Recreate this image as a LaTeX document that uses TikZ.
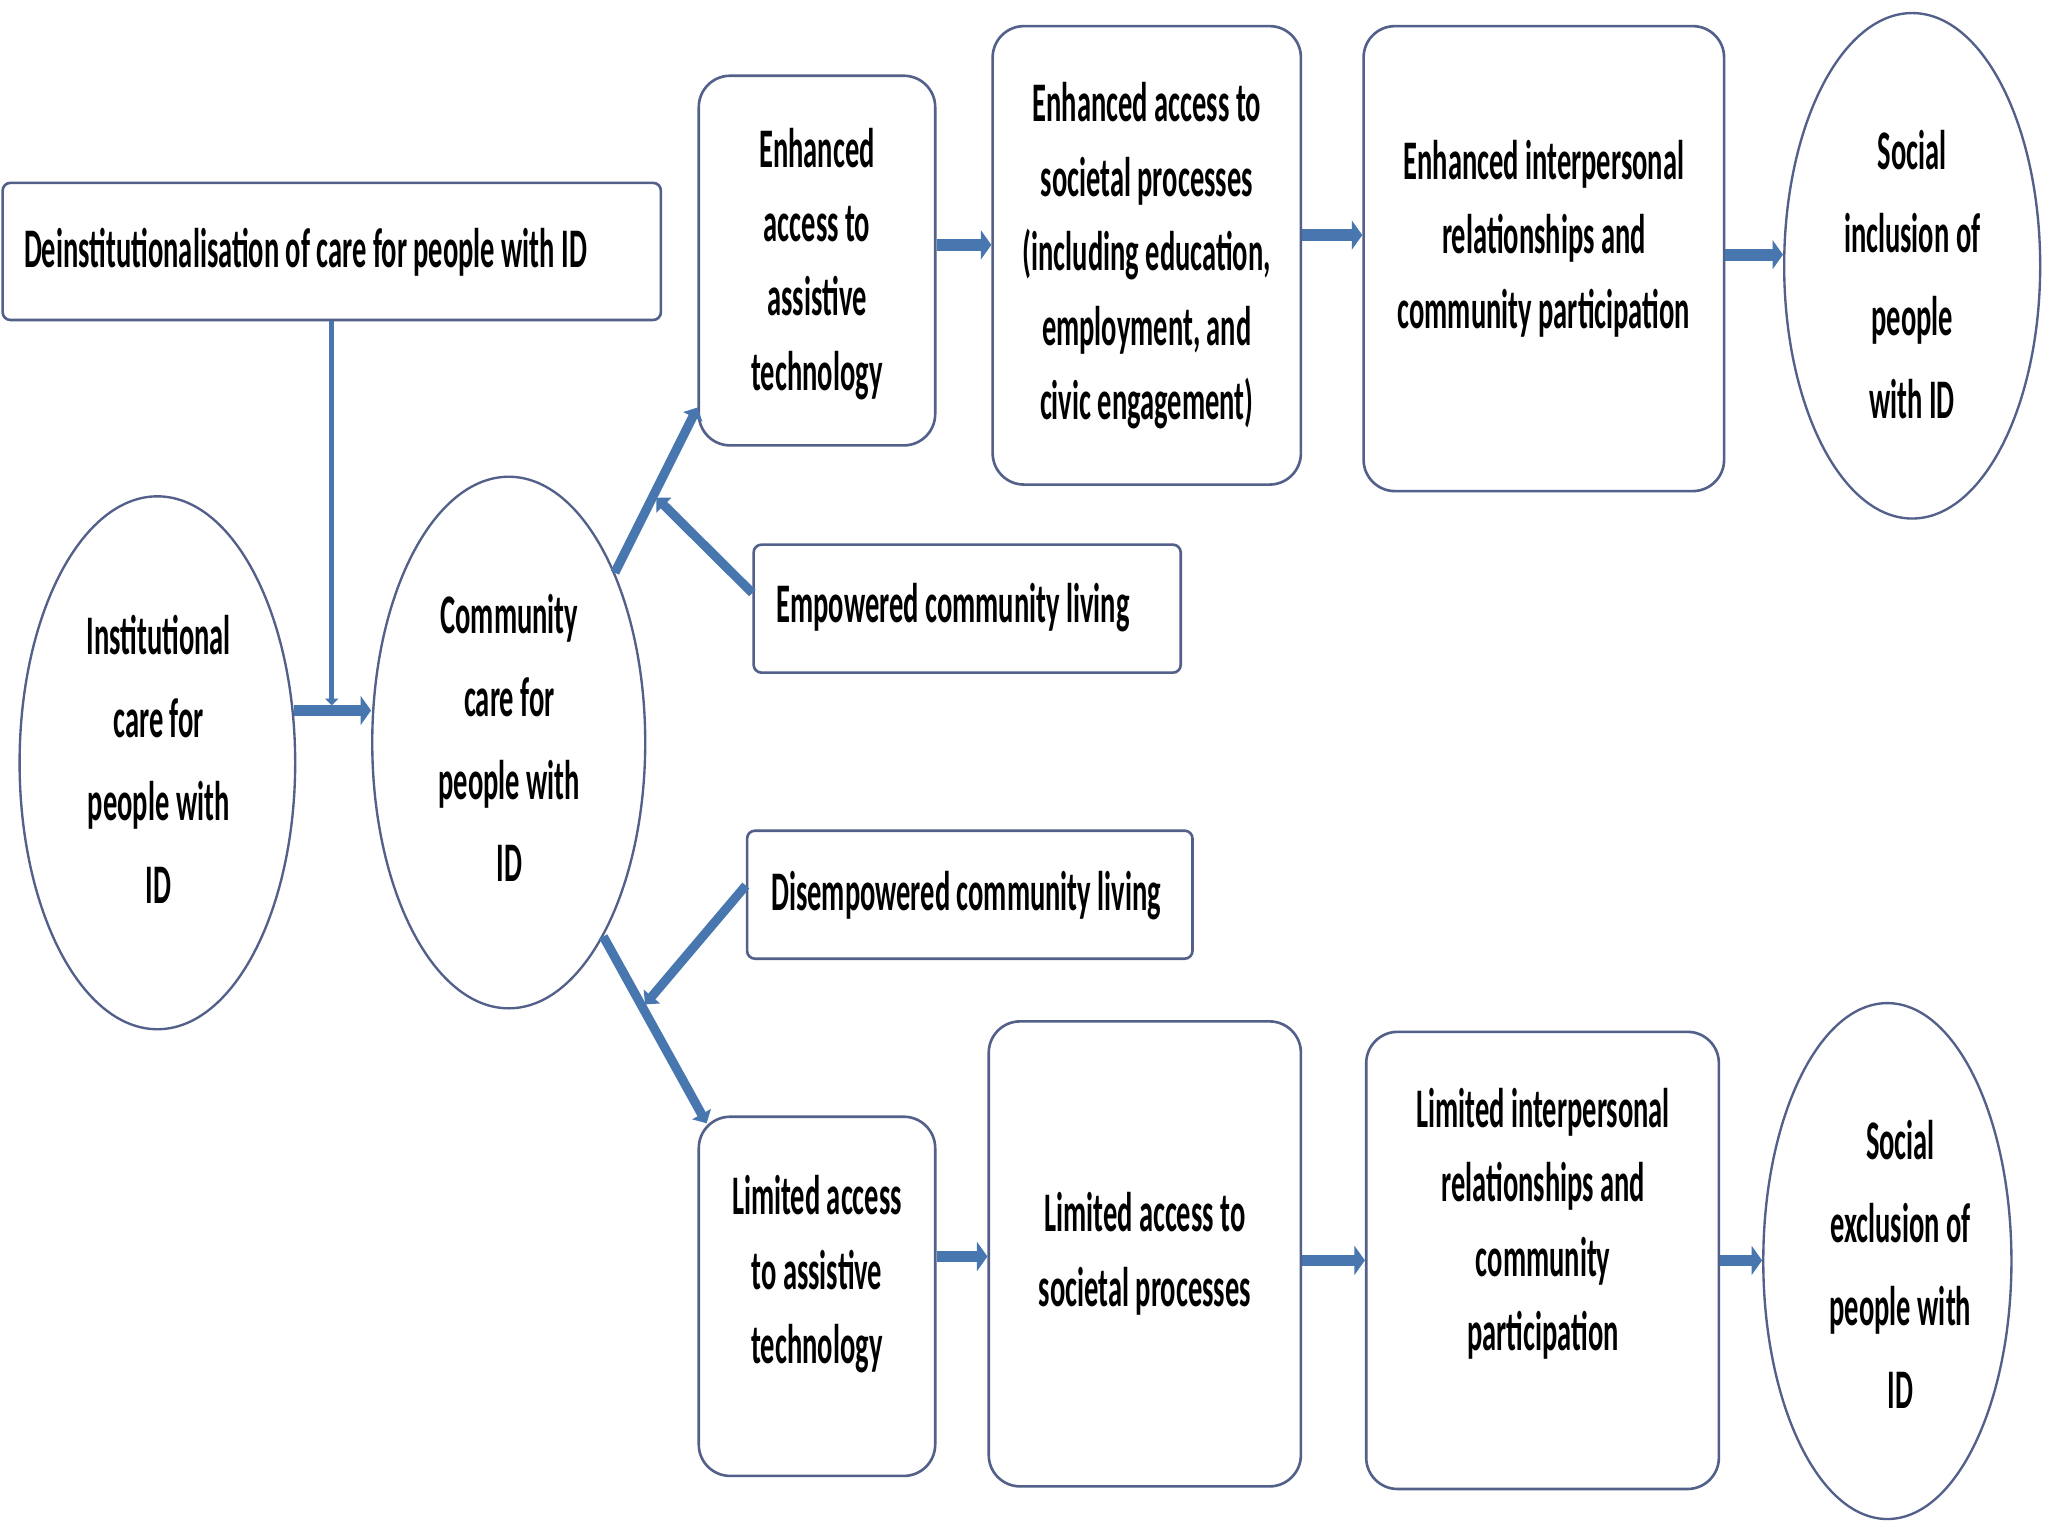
\documentclass[tikz,border=0pt]{standalone}
\usepackage{fontspec}
\newfontfamily\lab{Carlito}[FakeStretch=0.51]
\usetikzlibrary{arrows.meta,calc,shapes.geometric}
\definecolor{bord}{RGB}{82,96,138}
\definecolor{arrc}{RGB}{72,118,175}
\newcommand\labfont[1]{\lab\bfseries\fontsize{21.4}{#1}\selectfont\spaceskip=0.115em plus 0.05em minus 0.03em\relax}
\begin{document}
\begin{tikzpicture}[x=0.5pt,y=-0.5pt,
  bx/.style={draw=bord,line width=1pt,rounded corners=12pt,fill=white,inner sep=0pt},
  sq/.style={draw=bord,line width=1pt,rounded corners=3pt,fill=white,inner sep=0pt},
  el/.style={ellipse,draw=bord,line width=0.9pt,fill=white,inner sep=0pt},
  txt/.style={font=\labfont{28.5},align=center,inner sep=0pt},
  etxt/.style={font=\labfont{31.75},align=center,inner sep=0pt},
  ltxt/.style={font=\labfont{28.5},anchor=west,inner sep=0pt},
  arr/.style={draw=arrc,line width=4.5pt,-{Triangle[width=11pt,length=4pt]}},
  dg/.style={draw=arrc,line width=3.5pt,-{Triangle[width=8pt,length=4pt]}},
  vln/.style={draw=arrc,line width=1.8pt,-{Triangle[width=5pt,length=2.5pt]}}]
\fill[white] (0,0) rectangle (1568,1176);
\useasboundingbox (0,0) rectangle (1568,1176);

% shapes
\node[sq,minimum width=252pt,minimum height=52.5pt] (deinst) at (254,192.5) {};
\node[el,minimum width=105.5pt,minimum height=204pt] (inst) at (120.5,584) {};
\node[el,minimum width=104.5pt,minimum height=203.5pt] (comm) at (389.5,568.5) {};
\node[bx,minimum width=90.5pt,minimum height=141.5pt] (ea) at (625.5,199.5) {};
\node[bx,minimum width=118pt,minimum height=175.5pt] (es) at (878,195.5) {};
\node[bx,minimum width=138pt,minimum height=178pt] (ei) at (1182,198) {};
\node[el,minimum width=98pt,minimum height=193.5pt] (si) at (1464,203.5) {};
\node[sq,minimum width=163.5pt,minimum height=49pt] (emp) at (740.5,466) {};
\node[sq,minimum width=170.5pt,minimum height=49pt] (dis) at (742.5,685) {};
\node[bx,minimum width=90.5pt,minimum height=137.5pt] (la) at (625.5,992.5) {};
\node[bx,minimum width=119.5pt,minimum height=178pt] (ls) at (876.5,960) {};
\node[bx,minimum width=135pt,minimum height=175pt] (li) at (1181,965) {};
\node[el,minimum width=95pt,minimum height=197.5pt] (se) at (1445,965.5) {};

% texts
\node[ltxt] (deinstt) at (18,193) {Deinstitutionalisation of care for people with ID};
\node[etxt] (instt) at (121.5,581.5) {Institutional\\care for\\people with\\ID};
\node[etxt] (commt) at (390,565) {Community\\care for\\people with\\ID};
\node[txt] (eat) at (625.5,202) {Enhanced\\access to\\assistive\\technology};
\node[txt] (est) at (878,196) {Enhanced access to\\societal processes\\(including education,\\employment, and\\civic engagement)};
\node[txt] (eit) at (1182,182.5) {Enhanced interpersonal\\relationships and\\community participation};
\node[etxt] (sit) at (1464,210) {Social\\inclusion of\\people\\with ID};
\node[ltxt] (empt) at (594,465) {Empowered community living};
\node[ltxt] (dist) at (590,686) {Disempowered community living};
\node[txt] (lat) at (625.5,975.5) {Limited access\\to assistive\\technology};
\node[txt] (lst) at (876.5,960) {Limited access to\\societal processes};
\node[txt] (lit) at (1181.5,937) {Limited interpersonal\\relationships and\\community\\participation};
\node[etxt] (set) at (1455,968) {Social\\exclusion of\\people with\\ID};

% left part
\draw[arr] (inst.21) -- (inst.21 -| comm.west);
\coordinate (jn) at ($(inst.21)!0.5!(inst.21 -| comm.west)$);
\draw[vln,shorten >=2pt] (deinst.south) -- (deinst.south |- jn);

% upper branch
\coordinate (ua) at ($(ea.south west)+(0,-30)$);
\draw[dg] (comm.58) -- (ua);
\coordinate (ue) at ($(comm.58)!0.47!(ua)$);
\draw[dg,shorten >=1.5pt] ($(emp.west)+(0,-12)$) -- (ue);

% lower branch
\coordinate (lb) at ($(la.north west)+(7,6)$);
\draw[dg] (comm.-64) -- (lb);
\coordinate (le) at ($(comm.-64)!0.38!(lb)$);
\draw[dg,shorten >=1.5pt] ($(dis.west)+(0,-7)$) -- (le);

% top row
\coordinate (a1) at ([yshift=6pt]ea.east);
\draw[arr] (a1) -- (a1 -| es.west);
\coordinate (a2) at ([yshift=7.75pt]es.east);
\draw[arr] (a2) -- (a2 -| ei.west);
\coordinate (a3) at ([yshift=1.5pt]ei.east);
\draw[arr] (a3) -- (a3 -| si.west);

% bottom row
\coordinate (b1) at ([yshift=15.25pt]la.east);
\draw[arr] (b1) -- (b1 -| ls.west);
\coordinate (b2) at ([yshift=-2.5pt]ls.east);
\draw[arr] (b2) -- (b2 -| li.west);
\coordinate (b3) at (li.east);
\draw[arr] (b3) -- (b3 -| se.west);
\end{tikzpicture}
\end{document}
